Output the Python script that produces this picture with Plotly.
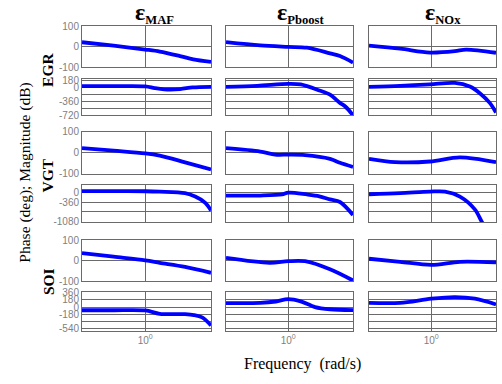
import plotly.graph_objects as go

# ---------------- data (log10 of frequency in rad/s, and values) ----------------
inputs = ["EGR", "VGT", "SOI"]
outputs = ["MAF", "Pboost", "NOx"]

# magnitude (dB)
EGR_MAF_mag_w = [-1, -0.5, 0, 0.23, 0.55, 0.76, 1.04]
EGR_MAF_mag = [22, 5, -14, -24, -46, -62, -75]
EGR_Pb_mag_w = [-1, -0.45, 0, 0.3, 0.67, 0.83, 1.04]
EGR_Pb_mag = [22, 6, -1, -5, -33, -46, -78]
EGR_NOx_mag_w = [-1, -0.5, -0.02, 0.38, 0.56, 1.04]
EGR_NOx_mag = [5, -10, -29, -22, -14, -30]

VGT_MAF_mag_w = [-1, -0.5, 0, 0.23, 0.63, 1.04]
VGT_MAF_mag = [22, 10, -3, -14, -46, -80]
VGT_Pb_mag_w = [-1, -0.45, -0.21, 0, 0.27, 0.67, 0.83, 1.04]
VGT_Pb_mag = [22, 6, -9, -9, -11, -29, -48, -68]
VGT_NOx_mag_w = [-1, -0.58, -0.02, 0.46, 1.04]
VGT_NOx_mag = [-29, -45, -42, -22, -45]

SOI_MAF_mag_w = [-1, -0.5, 0, 0.23, 0.63, 1.04]
SOI_MAF_mag = [38, 20, 2, -10, -30, -59]
SOI_Pb_mag_w = [-1, -0.3, 0, 0.27, 0.67, 1.04]
SOI_Pb_mag = [14, -10, -2, -2, -42, -97]
SOI_NOx_mag_w = [-1, -0.5, 0, 0.46, 1.04]
SOI_NOx_mag = [10, -5, -20, -5, -8]

# phase (deg)
EGR_MAF_ph_w = [-1, -0.5, 0, 0.15, 0.3, 0.55, 0.75, 1.04]
EGR_MAF_ph = [30, 30, 25, -20, -50, -45, 0, 15]
EGR_Pb_ph_w = [-1, -0.5, 0, 0.2, 0.5, 0.67, 0.83, 0.92, 1.04]
EGR_Pb_ph = [15, 40, 90, 75, -80, -190, -400, -500, -720]
EGR_NOx_ph_w = [-1, -0.5, -0.02, 0.38, 0.62, 0.78, 0.94, 1.04]
EGR_NOx_ph = [15, 40, 80, 115, 20, -150, -400, -650]

VGT_MAF_ph_w = [-1, -0.5, 0, 0.23, 0.63, 0.79, 0.95, 1.04]
VGT_MAF_ph = [72, 72, 65, 48, -10, -140, -380, -670]
VGT_Pb_ph_w = [-1, -0.45, -0.1, 0, 0.3, 0.5, 0.67, 0.83, 0.95, 1.04]
VGT_Pb_ph = [-100, -100, -60, 10, -60, -130, -250, -350, -600, -850]
VGT_NOx_ph_w = [-1, -0.5, -0.02, 0.22, 0.46, 0.7, 0.83, 0.95]
VGT_NOx_ph = [-50, -10, 50, 50, -140, -630, -1185, -1600]

SOI_MAF_ph_w = [-1, -0.5, 0, 0.23, 0.63, 0.77, 0.9, 1.04]
SOI_MAF_ph = [-80, -80, -85, -170, -178, -200, -260, -460]
SOI_Pb_ph_w = [-1, -0.45, -0.2, 0, 0.2, 0.43, 0.67, 1.04]
SOI_Pb_ph = [100, 105, 140, 200, 145, 0, -55, -75]
SOI_NOx_ph_w = [-1, -0.5, 0, 0.38, 0.7, 1.04]
SOI_NOx_ph = [105, 105, 210, 250, 210, 65]

mag_data = {
    "EGR": [(EGR_MAF_mag_w, EGR_MAF_mag), (EGR_Pb_mag_w, EGR_Pb_mag), (EGR_NOx_mag_w, EGR_NOx_mag)],
    "VGT": [(VGT_MAF_mag_w, VGT_MAF_mag), (VGT_Pb_mag_w, VGT_Pb_mag), (VGT_NOx_mag_w, VGT_NOx_mag)],
    "SOI": [(SOI_MAF_mag_w, SOI_MAF_mag), (SOI_Pb_mag_w, SOI_Pb_mag), (SOI_NOx_mag_w, SOI_NOx_mag)],
}
ph_data = {
    "EGR": [(EGR_MAF_ph_w, EGR_MAF_ph), (EGR_Pb_ph_w, EGR_Pb_ph), (EGR_NOx_ph_w, EGR_NOx_ph)],
    "VGT": [(VGT_MAF_ph_w, VGT_MAF_ph), (VGT_Pb_ph_w, VGT_Pb_ph), (VGT_NOx_ph_w, VGT_NOx_ph)],
    "SOI": [(SOI_MAF_ph_w, SOI_MAF_ph), (SOI_Pb_ph_w, SOI_Pb_ph), (SOI_NOx_ph_w, SOI_NOx_ph)],
}

mag_ticks = [100, 0, -100]
mag_ticktext = ["100", "0", "-100"]
ph_ticks = {
    "EGR": ([180, 0, -180, -360, -540, -720], ["180", "0", "", "-360", "", "-720"]),
    "VGT": ([0, -360, -720, -1080], ["0", "-360", "", "-1080"]),
    "SOI": ([360, 180, 0, -180, -360, -540], ["360", "180", "0", "-180", "", "-540"]),
}
ph_range = {"EGR": [-725, 225], "VGT": [-1117, 296], "SOI": [-589, 384]}

# ---------------- layout geometry (pixels) ----------------
W, H = 502, 384
col_px = [(82, 211), (226, 353), (369, 496)]
row_px = {
    ("EGR", "mag"): (21, 63), ("EGR", "ph"): (75, 113),
    ("VGT", "mag"): (130, 173), ("VGT", "ph"): (185, 223),
    ("SOI", "mag"): (242, 284), ("SOI", "ph"): (295, 335),
}

FRAME = "#6a6a6a"
TICKC = "#808080"
tickfont = dict(family="Liberation Sans, Arial", size=10, color=TICKC)

fig = go.Figure()
layout = {}
k = 0
for inp in inputs:
    for kind in ["mag", "ph"]:
        top, bot = row_px[(inp, kind)]
        for c in range(3):
            k += 1
            xa = "x" if k == 1 else f"x{k}"
            ya = "y" if k == 1 else f"y{k}"
            w, v = (mag_data if kind == "mag" else ph_data)[inp][c]
            fig.add_trace(go.Scatter(
                x=[10 ** t for t in w], y=v, mode="lines",
                line=dict(color="#0000ff", width=3.8, shape="spline", smoothing=0.9),
                xaxis=xa, yaxis=ya, showlegend=False, hoverinfo="skip"))
            x0, x1 = col_px[c]
            bottom_row = (inp == "SOI" and kind == "ph")
            layout["xaxis" if k == 1 else f"xaxis{k}"] = dict(
                domain=[x0 / W, x1 / W], anchor=ya, type="log", range=[-1, 1.04],
                tickvals=[1], ticktext=["10<sup>0</sup>"], showticklabels=bottom_row,
                showgrid=True, gridcolor=FRAME, gridwidth=1, zeroline=False,
                showline=True, mirror=True, linecolor=FRAME, linewidth=1,
                ticks="", tickfont=tickfont)
            if kind == "mag":
                tv, tt, rg = mag_ticks, mag_ticktext, [-100, 100]
            else:
                tv, tt = ph_ticks[inp]
                rg = ph_range[inp]
            layout["yaxis" if k == 1 else f"yaxis{k}"] = dict(
                domain=[1 - bot / H, 1 - top / H], anchor=xa, range=rg,
                tickvals=tv, ticktext=tt, showticklabels=(c == 0),
                showgrid=True, gridcolor=FRAME, gridwidth=1, zeroline=False,
                showline=True, mirror=True, linecolor=FRAME, linewidth=1,
                ticks="", tickfont=tickfont)

annotations = []
title_subs = ["MAF", "Pboost", "NOx"]
title_cx = [154, 300, 443]
for t, cx in zip(title_subs, title_cx):
    annotations.append(dict(
        text=f"<b><span style='font-size:24px'>ε</span><sub>{t}</sub></b>",
        x=cx / W, y=1 - 24 / H, xref="paper", yref="paper",
        xanchor="center", yanchor="bottom", showarrow=False,
        font=dict(family="Liberation Serif, Times New Roman", size=18, color="black")))
row_cy = {"EGR": 66, "VGT": 175, "SOI": 285}
for inp in inputs:
    annotations.append(dict(text=f"<b>{inp}</b>", x=48 / W, y=1 - row_cy[inp] / H, xref="paper", yref="paper",
                            xanchor="center", yanchor="middle", textangle=-90, showarrow=False,
                            font=dict(family="Liberation Serif, Times New Roman", size=15.5, color="black")))
annotations.append(dict(text="Phase (deg); Magnitude (dB)", x=25 / W, y=1 - 172 / H, xref="paper", yref="paper",
                        xanchor="center", yanchor="middle", textangle=-90, showarrow=False,
                        font=dict(family="Liberation Serif, Times New Roman", size=15.5, color="black")))
annotations.append(dict(text="Frequency  (rad/s)", x=302 / W, y=1 - 370 / H, xref="paper", yref="paper",
                        xanchor="center", yanchor="middle", showarrow=False,
                        font=dict(family="Liberation Serif, Times New Roman", size=16, color="black")))

fig.update_layout(width=W, height=H, margin=dict(l=0, r=0, t=0, b=0),
                  paper_bgcolor="white", plot_bgcolor="white",
                  annotations=annotations, **layout)
fig.write_html("out.html")
